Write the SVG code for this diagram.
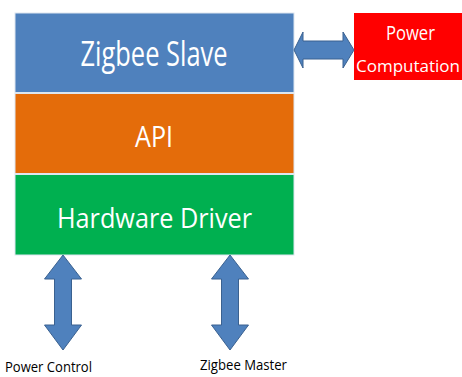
<svg xmlns="http://www.w3.org/2000/svg" width="462" height="377" viewBox="0 0 462 377">
<style>
.lbl{font-family:"Open Sans","Noto Sans","Liberation Sans",sans-serif;fill:#fff;text-anchor:middle}
.cap{font-family:"Open Sans","Noto Sans","Liberation Sans",sans-serif;fill:#000}
.arr{fill:#4F81BD;stroke:#3A6190;stroke-width:1;stroke-linejoin:miter}
.box{stroke:#DDE6F0;stroke-width:1}
</style>
<rect width="462" height="377" fill="#fff"/>
<g id="zigbee-slave">
<rect class="box" x="15" y="13" width="279" height="79.5" fill="#4F81BD"/>
<text class="lbl" x="154" y="66" font-size="35" textLength="147" lengthAdjust="spacingAndGlyphs">Zigbee Slave</text>
</g>
<g id="api">
<rect class="box" x="15" y="93.5" width="279" height="80" fill="#E46C0A"/>
<text class="lbl" x="154" y="147" font-size="29" textLength="38" lengthAdjust="spacingAndGlyphs">API</text>
</g>
<g id="hardware-driver">
<rect class="box" x="15" y="174.5" width="279" height="80.5" fill="#00B050"/>
<text class="lbl" x="154.5" y="228" font-size="28" textLength="195" lengthAdjust="spacingAndGlyphs">Hardware Driver</text>
</g>
<g id="power-computation">
<rect x="354" y="13" width="108" height="67" fill="#FF0000"/>
<text class="lbl" x="410.5" y="40" font-size="20" textLength="49" lengthAdjust="spacingAndGlyphs">Power</text>
<text class="lbl" x="408" y="72" font-size="17">Computation</text>
</g>
<g id="power-control">
<text class="cap" x="5" y="372" font-size="14" textLength="87" lengthAdjust="spacingAndGlyphs">Power Control</text>
</g>
<g id="zigbee-master">
<text class="cap" x="200" y="370" font-size="14" textLength="87" lengthAdjust="spacingAndGlyphs">Zigbee Master</text>
</g>
<g id="connectors">
<path class="arr" d="M294,50 L303,32 L303,41 L343,41 L343,32 L354,50 L343,68 L343,59 L303,59 L303,68 Z"/>
<path class="arr" d="M63,255 L81.5,279 L71.5,279 L71.5,325 L81.5,325 L63,350 L44.5,325 L54.5,325 L54.5,279 L44.5,279 Z"/>
<path class="arr" d="M230,255 L248.5,279 L238.5,279 L238.5,325 L248.5,325 L230,350 L211.5,325 L221.5,325 L221.5,279 L211.5,279 Z"/>
</g>
</svg>
